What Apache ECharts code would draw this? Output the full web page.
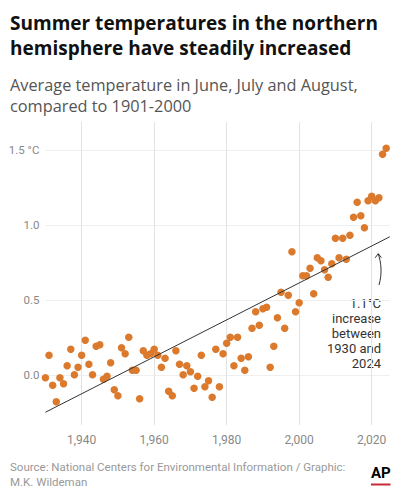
<!DOCTYPE html>
<html>
<head>
<meta charset="utf-8">
<script src="https://cdn.jsdelivr.net/npm/echarts@6/dist/echarts.min.js"></script>
<style>
  html, body { margin: 0; padding: 0; background: #fff; }
  #chart { width: 400px; height: 500px; }
</style>
</head>
<body>
<div id="chart"></div>
<script>
const years = [1930,1931,1932,1933,1934,1935,1936,1937,1938,1939,
  1940,1941,1942,1943,1944,1945,1946,1947,1948,1949,
  1950,1951,1952,1953,1954,1955,1956,1957,1958,1959,
  1960,1961,1962,1963,1964,1965,1966,1967,1968,1969,
  1970,1971,1972,1973,1974,1975,1976,1977,1978,1979,
  1980,1981,1982,1983,1984,1985,1986,1987,1988,1989,
  1990,1991,1992,1993,1994,1995,1996,1997,1998,1999,
  2000,2001,2002,2003,2004,2005,2006,2007,2008,2009,
  2010,2011,2012,2013,2014,2015,2016,2017,2018,2019,
  2020,2021,2022,2023,2024];
const anomalies = [-0.02,0.13,-0.07,-0.18,-0.02,-0.06,0.06,0.17,0.00,0.05,
  0.13,0.23,0.07,0.00,0.19,0.20,-0.03,-0.01,0.08,-0.10,
  -0.14,0.18,0.14,0.25,0.03,0.03,-0.16,0.16,0.13,0.14,
  0.17,0.13,0.05,0.11,-0.11,-0.14,0.16,0.07,0.00,0.06,
  0.02,-0.09,-0.01,0.13,-0.08,-0.04,-0.15,0.17,-0.08,0.14,
  0.21,0.25,0.06,0.25,0.11,0.03,0.12,0.31,0.42,0.33,
  0.44,0.45,0.05,0.19,0.38,0.55,0.31,0.53,0.82,0.42,
  0.48,0.66,0.66,0.71,0.54,0.78,0.76,0.70,0.65,0.74,
  0.91,0.78,0.91,0.77,0.93,1.05,1.15,1.06,0.98,1.16,
  1.19,1.16,1.18,1.47,1.51];
const trendYears = [1930, 2025];
const trendValues = [-0.25, 0.92];
const xTickValues = [1940, 1960, 1980, 2000, 2020];
const yTickValues = [0, 0.5, 1.0, 1.5];
const yTickLabels = ['0.0', '0.5', '1.0', '1.5 °C'];

const titleLines = ['Summer temperatures in the northern', 'hemisphere have steadily increased'];
const subtitleLines = ['Average temperature in June, July and August,', 'compared to 1901-2000'];

const font = 'Roboto, "Noto Sans", sans-serif';
const headFont = '"Open Sans", Roboto, sans-serif';

// pick a font size so that a line of text spans a target width
function fitSize(text, weight, family, target, fallback) {
  try {
    const ctx = document.createElement('canvas').getContext('2d');
    ctx.font = weight + ' 100px ' + family;
    const w = ctx.measureText(text).width;
    if (!w) return fallback;
    const s = 100 * target / w;
    return Math.max(fallback * 0.85, Math.min(fallback * 1.15, s));
  } catch (e) { return fallback; }
}

function draw() {
  const titleSize = fitSize(titleLines[0], 'bold', headFont, 368, 19.5);
  const subSize = fitSize(subtitleLines[0], 'normal', headFont, 348, 16);
  const chart = echarts.init(document.getElementById('chart'), null, { renderer: 'svg' });
  chart.setOption({
    animation: false,
    backgroundColor: '#fff',
    textStyle: { fontFamily: font },
    title: [
      {
        text: titleLines.join('\n'),
        left: 10, top: 10, padding: 0,
        textStyle: { fontFamily: headFont, fontSize: titleSize, fontWeight: 'bold', color: '#111', lineHeight: 25 }
      },
      {
        text: subtitleLines.join('\n'),
        left: 10, top: 75, padding: 0,
        textStyle: { fontFamily: headFont, fontSize: subSize, fontWeight: 'normal', color: '#555', lineHeight: 20.5 }
      },
      {
        text: 'Source: National Centers for Environmental Information / Graphic:\nM.K. Wildeman',
        left: 10, top: 459, padding: 0,
        textStyle: { fontFamily: font, fontSize: 11.5, fontWeight: 'normal', color: '#999', lineHeight: 15 }
      }
    ],
    grid: { left: 45.4, right: 10.2, top: 122, bottom: 75 },
    xAxis: {
      type: 'value',
      min: 1930, max: 2025,
      axisLine: { show: false },
      axisTick: { show: false, customValues: xTickValues },
      axisLabel: { customValues: xTickValues, color: '#888', fontSize: 12, margin: 9, fontFamily: font },
      splitLine: { show: true, lineStyle: { color: '#e2e2e2', width: 1 } }
    },
    yAxis: {
      type: 'value',
      min: -0.335, max: 1.685,
      axisLine: { show: false },
      axisTick: { show: false, customValues: yTickValues },
      axisLabel: {
        customValues: yTickValues,
        color: '#888', fontSize: 11.5, margin: 6, fontFamily: font,
        formatter: function (v) {
          const i = yTickValues.findIndex(t => Math.abs(t - v) < 1e-6);
          return i >= 0 ? yTickLabels[i] : '';
        }
      },
      splitLine: { show: true, lineStyle: { color: '#efefef', width: 1 } }
    },
    series: [
      {
        type: 'scatter',
        data: years.map((y, i) => [y, anomalies[i]]),
        symbolSize: 7.5,
        itemStyle: { color: '#db7a2d', opacity: 1 },
        z: 2
      },
      {
        type: 'line',
        data: trendYears.map((y, i) => [y, trendValues[i]]),
        symbol: 'none',
        lineStyle: { color: '#333', width: 1 },
        z: 3
      }
    ],
    graphic: [
      {
        type: 'text', x: 381, y: 296.5,
        style: {
          text: '1.1°C\nincrease\nbetween\n1930 and\n2024',
          align: 'right', verticalAlign: 'top', fill: '#333', fontSize: 13, lineHeight: 14.8, fontFamily: font
        }
      },
      {
        type: 'bezierCurve',
        shape: { x1: 379, y1: 285, cpx1: 382.5, cpy1: 273, cpx2: 381, cpy2: 262, x2: 378.3, y2: 254 },
        style: { stroke: '#333', lineWidth: 1, fill: null }
      },
      {
        type: 'polyline',
        shape: { points: [[375.2, 257.8], [378.3, 253.6], [381.4, 257.8]] },
        style: { stroke: '#333', lineWidth: 1, fill: null }
      },
      {
        type: 'text', left: 371, top: 465,
        style: { text: 'AP', fill: '#000', fontSize: 15, fontWeight: 'bold', fontFamily: font }
      },
      {
        type: 'rect', shape: { x: 371, y: 483.5, width: 19.5, height: 2 },
        style: { fill: '#c62b38' }
      }
    ]
  });
}

if (document.fonts && document.fonts.load) {
  Promise.all([
    document.fonts.load('bold 20px "Open Sans"'),
    document.fonts.load('normal 16px "Open Sans"'),
    document.fonts.load('normal 12px Roboto')
  ]).then(draw, draw);
} else {
  draw();
}
</script>
</body>
</html>
